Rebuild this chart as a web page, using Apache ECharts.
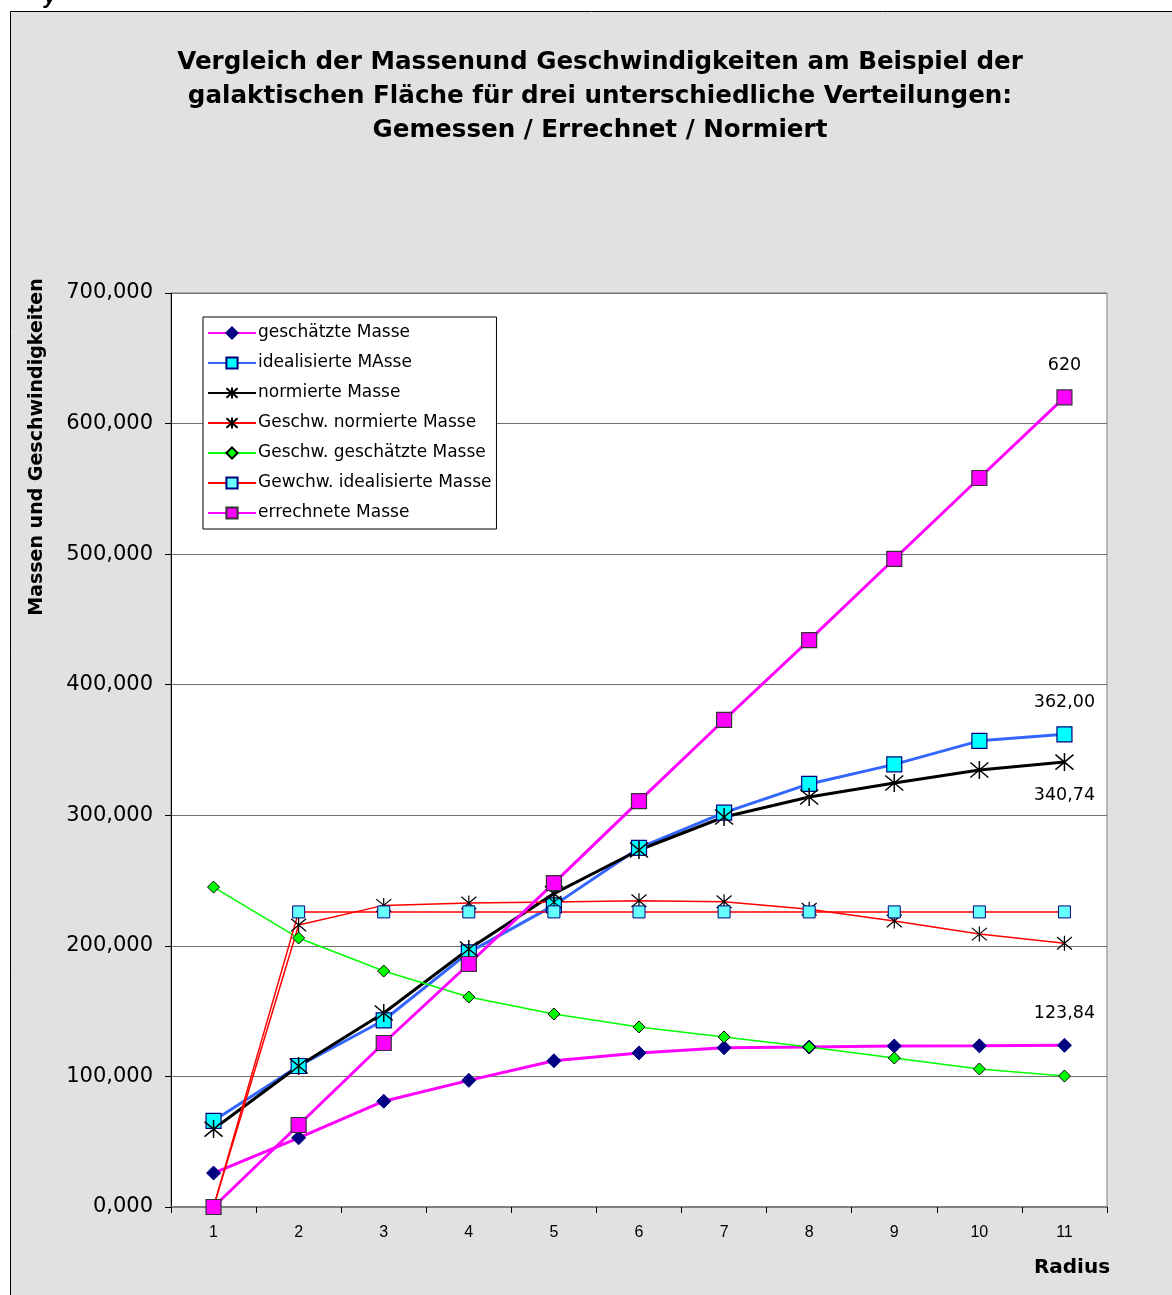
<!DOCTYPE html>
<html lang="de">
<head>
  <meta charset="UTF-8">
  <title>Vergleich der Massen und Geschwindigkeiten</title>
  <script src="https://cdn.jsdelivr.net/npm/echarts@6.0.0/dist/echarts.min.js"></script>
  <style>
    body { margin: 0; background: #fff; }
  </style>
</head>
<body>
  <div id="main" style="width: 1172px;height:1295px;"></div>
  <script type="text/javascript">
    // Radius 1..11
    var radius = ['1', '2', '3', '4', '5', '6', '7', '8', '9', '10', '11'];

    // Werte
    var geschaetzteMasse = [26, 53, 81, 97, 112, 118, 122, 122.5, 123.3, 123.4, 123.84];
    var idealisierteMasse = [66, 108, 143, 195, 231, 275, 302, 324, 339, 357, 362];
    var normierteMasse = [59.7, 108, 148.6, 197.6, 240, 273.4, 298.7, 314, 324.7, 334.7, 340.74];
    var geschwNormiert = [0, 216, 231, 232.8, 233.5, 234.6, 233.8, 228, 219, 209, 202];
    var geschwGeschaetzt = [245, 206, 180.7, 160.8, 147.8, 137.9, 130.2, 122.5, 114.1, 105.7, 100.3];
    var geschwIdealisiert = [0, 226, 226, 226, 226, 226, 226, 226, 226, 226, 226];
    var errechneteMasse = [0, 62.8, 125.6, 186.1, 248.1, 310.9, 373, 434.2, 496.3, 558.3, 620];

    var asterisk = 'path://M0,0L20,20M20,0L0,20M10,-2L10,22';
    var font = '"DejaVu Sans", Arial, sans-serif';
    var fontArial = 'Arial, "Liberation Sans", sans-serif';

    // nur am letzten Punkt beschriften
    function lastLabel(pos, digits) {
      return {
        show: true,
        position: pos,
        distance: 15,
        fontSize: 17.5,
        color: '#000',
        fontFamily: font,
        formatter: function (p) {
          if (p.dataIndex !== radius.length - 1) return '';
          return p.value.toFixed(digits).replace('.', ',');
        }
      };
    }

    var myChart = echarts.init(document.getElementById('main'));

    var option = {
      backgroundColor: '#fff',
      animation: false,
      textStyle: { fontFamily: font },
      title: {
        text: 'Vergleich der Massenund Geschwindigkeiten am Beispiel der\ngalaktischen Fläche für drei unterschiedliche Verteilungen:\nGemessen / Errechnet / Normiert',
        left: 595,
        top: 41,
        textAlign: 'center',
        textStyle: {
          fontSize: 24.6,
          fontWeight: 'bold',
          lineHeight: 34,
          color: '#000',
          fontFamily: font
        }
      },
      graphic: [
        {
          type: 'rect',
          z: -10,
          silent: true,
          shape: { x: 10.5, y: 11.5, width: 1200, height: 1300 },
          style: { fill: '#e1e1e1', stroke: '#000', lineWidth: 1 }
        },
        {
          type: 'text',
          x: 44, y: -14,
          style: { text: 'y', font: 'italic bold 22px ' + fontArial, fill: '#000' }
        },
        {
          type: 'text',
          x: 37, y: 447,
          rotation: Math.PI / 2,
          style: {
            text: 'Massen und Geschwindigkeiten',
            font: 'bold 19px ' + font,
            fill: '#000',
            align: 'center',
            verticalAlign: 'middle'
          }
        },
        {
          type: 'text',
          x: 1072, y: 1268,
          style: {
            text: 'Radius',
            font: 'bold 20px ' + font,
            fill: '#000',
            align: 'center',
            verticalAlign: 'middle'
          }
        }
      ],
      legend: {
        orient: 'vertical',
        left: 203,
        top: 317,
        padding: [6, 5, 6, 4],
        itemWidth: 48,
        itemHeight: 14,
        itemGap: 10,
        backgroundColor: '#fff',
        borderColor: '#000',
        borderWidth: 1,
        borderRadius: 0,
        textStyle: { fontSize: 17, lineHeight: 20, color: '#000', fontFamily: font, padding: [0, 0, 0, -3] }
      },
      grid: {
        left: 171,
        top: 293,
        right: 65,
        bottom: 88,
        show: true,
        backgroundColor: '#fff',
        borderColor: '#808080',
        borderWidth: 1
      },
      xAxis: {
        type: 'category',
        data: radius,
        boundaryGap: true,
        axisLine: { lineStyle: { color: '#808080', width: 2 } },
        axisTick: { show: true, length: 6, lineStyle: { color: '#000' } },
        axisLabel: { fontSize: 16, color: '#000', margin: 18, fontFamily: fontArial }
      },
      yAxis: {
        type: 'value',
        min: 0,
        max: 700,
        interval: 100,
        axisLine: { show: true, lineStyle: { color: '#000' } },
        axisTick: { show: true, length: 6, lineStyle: { color: '#000' } },
        splitLine: { lineStyle: { color: '#707070', width: 1 } },
        axisLabel: {
          fontSize: 21,
          color: '#000',
          margin: 18,
          formatter: function (v) { return v.toFixed(3).replace('.', ','); }
        }
      },
      series: [
        {
          name: 'geschätzte Masse',
          type: 'line',
          data: geschaetzteMasse,
          symbol: 'diamond',
          symbolSize: 14,
          lineStyle: { color: '#ff00ff', width: 3 },
          itemStyle: { color: '#000080', borderColor: '#000080', borderWidth: 1 },
          label: lastLabel('top', 2)
        },
        {
          name: 'idealisierte MAsse',
          type: 'line',
          data: idealisierteMasse,
          symbol: 'rect',
          symbolSize: 15,
          lineStyle: { color: '#3366ff', width: 3 },
          itemStyle: { color: '#00ffff', borderColor: '#000080', borderWidth: 1.2 },
          label: lastLabel('top', 2)
        },
        {
          name: 'normierte Masse',
          type: 'line',
          data: normierteMasse,
          symbol: asterisk,
          symbolSize: 18,
          lineStyle: { color: '#000', width: 3 },
          itemStyle: { color: 'transparent', borderColor: '#000', borderWidth: 1.5 },
          label: lastLabel('bottom', 2)
        },
        {
          name: 'Geschw. normierte Masse',
          type: 'line',
          data: geschwNormiert,
          symbol: asterisk,
          symbolSize: 15,
          lineStyle: { color: '#ff0000', width: 1.5 },
          itemStyle: { color: 'transparent', borderColor: '#000', borderWidth: 1.2 }
        },
        {
          name: 'Geschw. geschätzte Masse',
          type: 'line',
          data: geschwGeschaetzt,
          symbol: 'diamond',
          symbolSize: 12,
          lineStyle: { color: '#00ff00', width: 1.5 },
          itemStyle: { color: '#00ff00', borderColor: '#000', borderWidth: 1 }
        },
        {
          name: 'Gewchw. idealisierte Masse',
          type: 'line',
          data: geschwIdealisiert,
          symbol: 'rect',
          symbolSize: 12,
          lineStyle: { color: '#ff0000', width: 1.5 },
          itemStyle: { color: '#66ffff', borderColor: '#000080', borderWidth: 1 }
        },
        {
          name: 'errechnete Masse',
          type: 'line',
          data: errechneteMasse,
          symbol: 'rect',
          symbolSize: 15,
          lineStyle: { color: '#ff00ff', width: 3 },
          itemStyle: { color: '#ff00ff', borderColor: '#333', borderWidth: 1.2 },
          label: lastLabel('top', 0)
        }
      ]
    };

    myChart.setOption(option);
  </script>
</body>
</html>
